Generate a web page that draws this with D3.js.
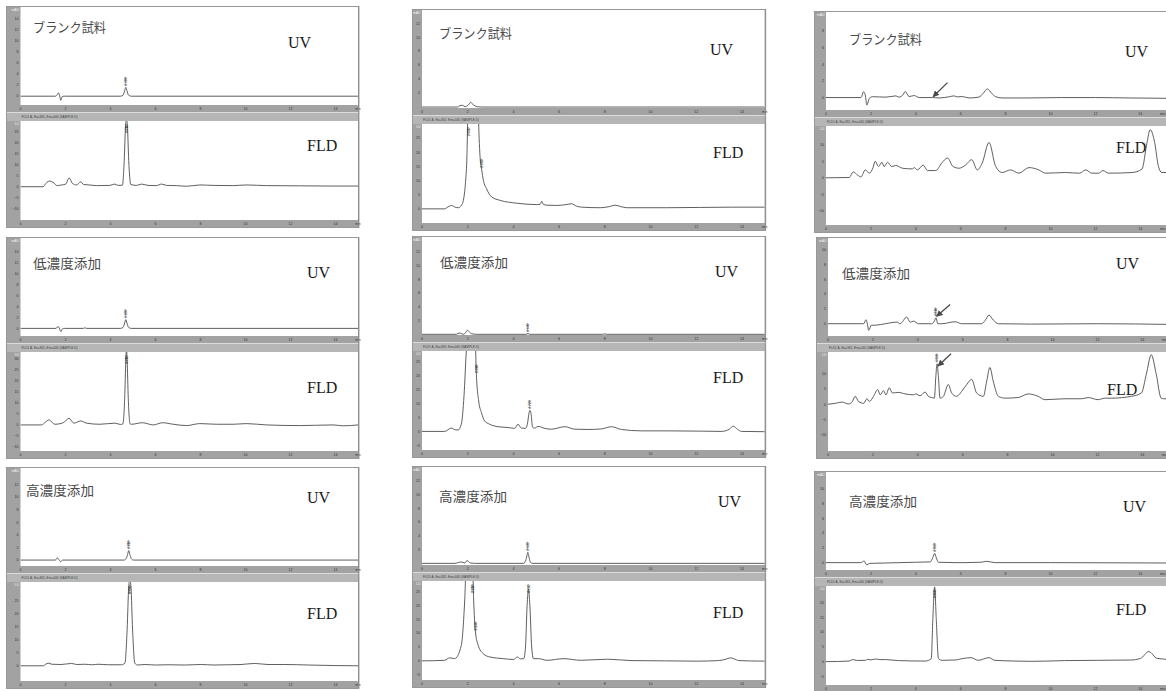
<!DOCTYPE html>
<html>
<head>
<meta charset="utf-8">
<script src="https://cdn.jsdelivr.net/npm/d3@7"></script>
<style>
  body { margin: 0; background: #fff; }
  svg { display: block; }
</style>
</head>
<body>
<svg id="chart" width="1166" height="691"></svg>
<script>
// ---- categories and labels ----
const sampleNames = ["ブランク試料", "低濃度添加", "高濃度添加"];
const detectorNames = ["UV", "FLD"];
const timeTicks = [0, 2, 4, 6, 8, 10, 12, 14];
const timeUnit = "min";
const uvUnit = "mAU";
const fldUnit = "LU";
const uvTickStep = 2;
const fldTickStep = 5;
const fldSignalName = "FLD1 A, Ex=365, Em=440 (SAMPLE.D)";

// ---- chromatogram traces: [retention time (min), signal] ----
// matrix 1
const uvBlank1 = [[0,0],[1.55,0],[1.64,0.3],[1.69,0.6],[1.74,0.1],[1.79,-0.75],[1.85,-0.1],[1.95,0],[4.45,0],[4.56,0.2],[4.63,1.0],[4.68,1.6],[4.73,1.0],[4.8,0.2],[4.92,0],[15,0]];
const fldBlank1 = [[0,0],[1.0,0],[1.13,1.5],[1.22,2.4],[1.3,2.6],[1.45,2.0],[1.63,0.5],[1.82,0.8],[2.01,1.2],[2.16,4.0],[2.31,1.5],[2.49,0.8],[2.68,2.2],[2.81,1.0],[2.96,0.9],[3.38,0.5],[3.97,0.6],[4.19,1.2],[4.34,0.6],[4.53,0.7],[4.61,12],[4.67,28],[4.71,31],[4.75,28],[4.81,12],[4.9,1.0],[5.16,0.6],[5.38,1.2],[5.67,0.6],[6.04,0.5],[6.27,1.2],[6.49,0.6],[6.93,0.5],[7.38,0.2],[7.97,0.8],[8.56,0.6],[9.45,0.5],[10.04,0.8],[10.93,0.5],[12.41,0.4],[13.9,0.3],[15,0.3]];
const uvLow1 = [[0,0],[1.58,0],[1.67,0.35],[1.74,-0.1],[1.79,-0.6],[1.86,-0.1],[1.95,0],[2.8,0],[2.83,0.1],[2.95,0],[4.45,0],[4.56,0.2],[4.63,1.0],[4.68,1.6],[4.73,1.0],[4.8,0.2],[4.92,0],[15,0]];
const fldLow1 = [[0,0],[0.93,0],[1.1,1.2],[1.27,2.3],[1.4,1.2],[1.53,0.3],[1.9,1.0],[2.16,3.0],[2.37,0.8],[2.68,1.8],[2.93,0.8],[3.53,0.3],[4.19,0.8],[4.45,0.2],[4.55,0.5],[4.63,12],[4.68,29],[4.71,34],[4.74,29],[4.79,12],[4.87,0.5],[4.93,0.3],[5.42,1.0],[5.9,0],[6.31,1.0],[6.79,0.3],[7.38,-0.3],[7.97,0.6],[8.71,0.3],[9.45,0.3],[10.04,0.6],[10.93,0],[12.41,-0.3],[13.9,0],[14.34,-0.4],[15,0]];
const uvHigh1 = [[0,0],[1.55,0],[1.64,0.35],[1.72,0],[1.79,-0.26],[1.87,0],[4.6,0],[4.7,0.25],[4.76,0.9],[4.81,1.5],[4.86,0.9],[4.92,0.25],[5.02,0],[15,0]];
const fldHigh1 = [[0,0],[1.0,0],[1.12,0.6],[1.23,1.0],[1.4,0.6],[1.8,0.5],[2.27,0.9],[2.5,0.5],[2.86,0.6],[3.2,0.4],[3.45,0.6],[3.9,0.4],[4.49,0.4],[4.64,1.0],[4.74,14],[4.81,30],[4.86,33],[4.91,30],[4.98,14],[5.08,1.0],[5.2,0.3],[5.53,0.5],[6.0,0.3],[6.56,0.4],[7.3,0.3],[8.04,0.5],[8.6,0.3],[9.23,0.4],[9.8,0.5],[10.41,0.9],[11.0,0.5],[11.75,0.5],[12.8,0.3],[13.97,0.1],[15,0]];

// matrix 2
const uvBlank2 = [[0,0],[1.55,0],[1.66,0.2],[1.78,0.25],[1.88,0.05],[2.03,0.3],[2.13,0.67],[2.25,0.3],[2.42,0.05],[2.61,0],[15,0]];
const fldBlank2 = [[0,0],[1.0,0],[1.08,0.4],[1.3,1.2],[1.45,0.6],[1.59,0.4],[1.72,1.2],[1.81,3],[1.9,9],[1.96,17],[2.03,40],[2.25,45],[2.44,40],[2.5,25],[2.54,18.5],[2.61,14],[2.69,10],[2.83,7],[3.05,4.2],[3.42,3],[4.15,2],[5.02,1.5],[5.17,1.6],[5.24,2.7],[5.31,1.6],[5.46,1.3],[5.9,1.2],[6.3,1.5],[6.55,1.8],[6.75,1.0],[6.99,0.6],[7.8,0.4],[8.2,0.8],[8.45,1.3],[8.7,0.8],[8.96,0.4],[10.7,0.4],[13.6,0.6],[15,0.6]];
const uvLow2 = [[0,0],[1.5,0],[1.65,0.2],[1.8,0],[1.9,0.2],[1.99,0.6],[2.08,0.3],[2.16,0.1],[2.38,0],[4.55,0],[4.64,0.12],[4.72,0],[7.9,0],[8.0,0.06],[8.1,0],[15,0]];
const fldLow2 = [[0,0],[0.99,0],[1.28,1.2],[1.45,0.6],[1.58,0.5],[1.72,2.6],[1.84,13],[1.94,29],[2.09,40],[2.31,38],[2.38,20.5],[2.48,11],[2.6,6.8],[2.74,3.8],[2.96,2.6],[3.33,1.7],[3.77,1.4],[4.06,1.1],[4.2,2.6],[4.35,1.2],[4.53,1.1],[4.61,2.5],[4.68,6.5],[4.72,7.6],[4.77,6.5],[4.84,1.5],[4.92,1.2],[5.08,1.8],[5.37,1.1],[5.66,0.8],[6.25,1.7],[6.69,0.8],[7.27,0.7],[7.85,0.9],[8.29,1.7],[8.73,0.7],[9.6,0.2],[10.77,0.2],[12.23,0.1],[13.1,0],[13.45,0.8],[13.62,1.9],[13.8,0.8],[13.99,0],[15,-0.1]];
const uvHigh2 = [[0,0],[1.45,0],[1.57,0.1],[1.72,0.2],[1.87,0.05],[1.97,0.4],[2.12,0.05],[2.3,0],[4.44,0],[4.54,0.4],[4.59,1.1],[4.63,1.6],[4.67,1.1],[4.72,0.4],[4.81,0],[15,0]];
const fldHigh2 = [[0,0],[0.99,0.2],[1.21,1.1],[1.43,0.8],[1.72,5.6],[1.87,22],[1.94,35],[2.21,35],[2.26,22],[2.34,10.4],[2.46,5.6],[2.68,2.6],[2.97,1.4],[3.56,0.8],[4.0,0.5],[4.18,1.4],[4.3,0.7],[4.45,0.8],[4.53,5],[4.6,20],[4.66,25.8],[4.72,20],[4.8,5],[4.88,0.8],[5.1,0.8],[5.47,0.2],[6.21,0.8],[6.94,0.2],[8.12,0.6],[9.15,0.1],[10.62,0],[12.09,-0.1],[12.97,0.1],[13.3,0.6],[13.49,1.1],[13.7,0.6],[13.85,0.1],[15,-0.1]];

// matrix 3
const uvBlank3 = [[0,0],[1.56,0],[1.67,0.7],[1.75,0.3],[1.82,-0.9],[1.93,-0.1],[2.07,0.1],[2.67,0.05],[3.11,0.2],[3.26,0.05],[3.42,0.3],[3.53,0.72],[3.7,0.12],[3.93,0.24],[4.15,0],[4.74,0],[5.04,-0.05],[5.5,0.1],[5.7,0.2],[5.85,0.08],[6.07,0.12],[6.37,-0.05],[6.81,0.05],[7.0,0.5],[7.19,1.04],[7.38,0.5],[7.56,0.1],[7.85,-0.05],[9.0,-0.05],[10.5,0],[12,0],[13.5,-0.05],[15.4,-0.1]];
const fldBlank3 = [[0,0],[1.04,0.1],[1.21,1.8],[1.41,0.8],[1.56,0.3],[1.75,2.4],[1.93,1.4],[2.09,3.0],[2.19,5],[2.34,3.4],[2.49,4.7],[2.59,3.4],[2.74,4.7],[2.93,3.4],[3.11,3.75],[3.41,2.9],[3.85,2.7],[3.93,3.1],[4.07,2.4],[4.33,3.85],[4.52,2.2],[4.89,2.2],[5.16,4.5],[5.41,6],[5.66,3.4],[5.93,2.9],[6.22,3.9],[6.49,5.5],[6.74,2.4],[6.96,4.5],[7.26,10.7],[7.56,3.4],[7.85,1.6],[8.22,2.4],[8.59,1.4],[9.04,3.1],[9.48,2.4],[9.78,1.4],[10.67,1.6],[11.3,1.4],[11.56,2.4],[11.85,1.4],[12.15,1.4],[12.33,2.2],[12.59,1.4],[13.63,1.6],[14.07,2.6],[14.3,10.7],[14.44,14.6],[14.64,10.7],[14.81,3.4],[14.96,1.6],[15.4,1.6]];
const uvLow3 = [[0,0],[1.59,0],[1.69,0.54],[1.76,-0.1],[1.81,-0.9],[1.93,-0.2],[2.1,-0.2],[2.55,0],[3.07,0.22],[3.21,0],[3.51,0.9],[3.66,0.2],[3.81,0.36],[4.03,0],[4.62,0],[4.74,0.36],[4.81,0.8],[4.89,0],[5.07,0],[5.66,0.27],[5.96,0],[6.84,0],[6.99,0.4],[7.17,1.17],[7.36,0.5],[7.59,0],[9.07,-0.05],[12,0],[15.4,-0.1]];
const fldLow3 = [[0,0],[0.33,0.3],[0.62,0.7],[0.92,0.1],[1.07,0.7],[1.21,2.6],[1.36,0.9],[1.59,0.3],[1.73,1.8],[1.84,0.9],[2.03,2.6],[2.21,4.8],[2.33,3.1],[2.47,4.5],[2.58,3.1],[2.73,5.4],[2.87,3.7],[3.14,3.9],[3.44,3.4],[3.81,3.1],[3.91,3.4],[4.1,2.8],[4.33,4.0],[4.47,2.6],[4.62,2.2],[4.74,2.0],[4.8,8.8],[4.86,13.3],[4.92,8.8],[4.99,2.0],[5.14,2.6],[5.36,6.5],[5.51,3.7],[5.73,2.6],[5.96,4.3],[6.18,6.5],[6.4,8.2],[6.62,3.7],[6.92,2.6],[7.07,7.6],[7.21,12.1],[7.36,7.6],[7.59,2.6],[7.88,2.0],[8.47,2.2],[8.92,3.4],[9.36,2.6],[9.66,1.5],[10.55,1.8],[11.29,1.8],[11.59,2.2],[12.03,1.5],[12.33,2.0],[12.62,2.0],[13.51,2.6],[13.96,3.7],[14.18,9.9],[14.4,16.3],[14.62,9.9],[14.84,2.0],[14.96,1.8],[15.4,1.8]];
const uvHigh3 = [[0,0],[1.55,0],[1.7,0.22],[1.81,-0.3],[1.95,-0.1],[2.65,-0.05],[3.98,0.05],[4.65,0.1],[4.76,0.7],[4.84,1.26],[4.91,0.7],[5.01,0.05],[5.75,0],[6.19,0],[6.9,0.05],[7.15,0.18],[7.52,0],[10,0],[15.4,-0.05]];
const fldHigh3 = [[0,0],[1.03,0.2],[1.18,0.7],[1.4,0.4],[1.77,0.45],[1.84,0.8],[2.0,0.6],[2.21,0.9],[2.4,0.7],[2.65,0.7],[3.24,0.35],[4.42,0.2],[4.69,1.0],[4.76,14.6],[4.84,25.3],[4.91,14.6],[5.01,1.0],[5.16,0.45],[5.75,0.55],[6.05,1.0],[6.46,1.35],[6.78,0.45],[7.26,1.35],[7.52,0.45],[8.41,0.2],[9.14,0.1],[10.62,0.35],[12.09,0.45],[13.57,0.55],[14.01,1.1],[14.38,3.4],[14.75,1.1],[15.4,0.7]];

// integrated peak retention times (min), per [matrix][sample]
const uvPeakTimes = [[[4.68],[4.68],[4.81]], [[],[4.64],[4.63]], [[],[4.81],[4.84]]];
const fldPeakTimes = [[[4.71],[4.71],[4.86]], [[2.03,2.61],[2.38,4.72],[2.21,2.34,4.66]], [[],[4.86],[4.84]]];

// arrows pointing at the target peak: [from [t, v], to [t, v]]
const uvArrows = [[[],[],[]], [[],[],[]], [[[[5.41,1.8],[4.77,0.1]]], [[[5.44,2.6],[4.84,1.0]]], []]];
const fldArrows = [[[],[],[]], [[],[],[]], [[], [[[5.48,16.6],[4.9,12.6]]], []]];

const uvTraces = [[uvBlank1, uvLow1, uvHigh1], [uvBlank2, uvLow2, uvHigh2], [uvBlank3, uvLow3, uvHigh3]];
const fldTraces = [[fldBlank1, fldLow1, fldHigh1], [fldBlank2, fldLow2, fldHigh2], [fldBlank3, fldLow3, fldHigh3]];

// ---- axis ranges per [matrix][sample] ----
const uvDomains = [
  [[-1.6, 16.2], [-1.4, 16.6], [-0.94, 14.6]],
  [[-0.14, 13.9], [-0.1, 14.2], [-0.24, 14]],
  [[-1.5, 10.3], [-1.66, 11.6], [-1, 12.3]]
];
const fldDomains = [
  [[-15.2, 30], [-11.8, 33], [-5.8, 32]],
  [[-5, 30], [-6.7, 29], [-6.9, 28.8]],
  [[-14.3, 15.7], [-15.4, 17.2], [-7.9, 25.6]]
];

// ---- layout ----
const W = 1166, H = 691;
const colLayout = [
  { strip: 7,   x0: 20.5, ppm: 22.5,  tEnd: 15 },
  { strip: 413, x0: 422,  ppm: 22.85, tEnd: 15 },
  { strip: 815, x0: 826,  ppm: 22.45, tEnd: 15.6 }
];
const rowTops = [[7, 238, 468], [10, 237, 467], [12, 238, 472]];
const colShift = [[0, 0, 0], [0, 0, 0], [0, 2, 0]];
const UV_H = 98, BAND_H = 7, BAR_H = 9, FLD_H = 99;
// label anchor positions [x, baseline] per [matrix][sample]
const labelPos = [
  [ {jp:[33,32],  uv:[288,48],   fld:[307,151]},  {jp:[33,268],  uv:[307,278],  fld:[307,393]},  {jp:[26,495],  uv:[307,503],  fld:[307,619]} ],
  [ {jp:[439,38], uv:[710,55],   fld:[713,158]},  {jp:[440,267], uv:[715,277],  fld:[713,383]},  {jp:[439,501], uv:[718,507],  fld:[713,618]} ],
  [ {jp:[849,44], uv:[1125,57],  fld:[1116,153]}, {jp:[842,278], uv:[1116,269], fld:[1107,395]}, {jp:[849,506], uv:[1123,512], fld:[1116,615]} ]
];
const jpWidths = [73, 68, 68];

const BAND = "#a2a2a2", BAR = "#b6b6b6", FRAME = "#8a8a8a", TRACE = "#4d4d4d";

const svg = d3.select("#chart");
svg.append("rect").attr("width", W).attr("height", H).attr("fill", "#fff");
const defs = svg.append("defs");

defs.append("marker").attr("id", "arrowHead")
  .attr("viewBox", "0 0 10 10").attr("refX", 9).attr("refY", 5)
  .attr("markerWidth", 5).attr("markerHeight", 5).attr("orient", "auto")
  .append("path").attr("d", "M0,0 L10,5 L0,10 Z").attr("fill", "#4a4a4a");

let clipId = 0;

function drawPlot(g, trace, domain, tickStep, unit, xScale, left, right, top, h, peaks, arrows) {
  const y = d3.scaleLinear().domain(domain).range([top + h, top]);
  // white plot area
  g.append("rect").attr("x", left).attr("y", top).attr("width", right - left).attr("height", h)
    .attr("fill", "#fff");
  // y ticks in the left strip
  const tickVals = d3.range(Math.ceil((domain[0] + 0.3 * tickStep) / tickStep) * tickStep,
                            domain[1] - 0.5 * tickStep, tickStep);
  g.selectAll(null).data(tickVals).join("text")
    .attr("x", left - 2).attr("y", d => y(d) + 1.3)
    .attr("text-anchor", "end").attr("font-family", "Liberation Sans, sans-serif")
    .attr("font-size", 3.6).attr("fill", "#333")
    .text(d => d3.format("d")(d));
  g.append("text").attr("x", left - 1.5).attr("y", top + 3.5)
    .attr("text-anchor", "end").attr("font-family", "Liberation Sans, sans-serif")
    .attr("font-size", 3.4).attr("fill", "#f4f4f4").text(unit);

  // clipped trace
  const id = "clip" + (clipId++);
  defs.append("clipPath").attr("id", id).append("rect")
    .attr("x", left).attr("y", top).attr("width", right - left).attr("height", h);
  const line = d3.line().x(d => xScale(d[0])).y(d => y(d[1])).curve(d3.curveMonotoneX);
  g.append("path").datum(trace).attr("d", line)
    .attr("fill", "none").attr("stroke", TRACE).attr("stroke-width", 0.9)
    .attr("clip-path", `url(#${id})`);

  // retention-time labels at integrated peaks
  peaks.forEach(t => {
    const pt = trace.find(p => p[0] === t);
    const px = xScale(pt[0]);
    const py = y(pt[1]);
    const clipped = py - 11 < top;
    const anchorY = clipped ? top + 12 : py - 1.5;
    g.append("text")
      .attr("transform", `translate(${px + 1.2},${anchorY}) rotate(-90)`)
      .attr("font-family", "Liberation Sans, sans-serif").attr("font-size", 3.4)
      .attr("fill", "#222").text(pt[0].toFixed(3));
    g.append("line").attr("x1", px - 0.4).attr("x2", px - 0.4)
      .attr("y1", anchorY).attr("y2", anchorY - 9)
      .attr("stroke", "#444").attr("stroke-width", 0.5);
  });

  // arrows
  arrows.forEach(a => {
    g.append("line")
      .attr("x1", xScale(a[0][0])).attr("y1", y(a[0][1]))
      .attr("x2", xScale(a[1][0])).attr("y2", y(a[1][1]))
      .attr("stroke", "#4a4a4a").attr("stroke-width", 1.3)
      .attr("marker-end", "url(#arrowHead)");
  });
  return y;
}

function drawTimeBand(g, xScale, left, right, top, tEnd) {
  g.append("rect").attr("x", left).attr("y", top).attr("width", right - left).attr("height", BAND_H)
    .attr("fill", BAND);
  g.selectAll(null).data(timeTicks).join("text")
    .attr("x", d => xScale(d)).attr("y", top + 4.8)
    .attr("text-anchor", "middle").attr("font-family", "Liberation Sans, sans-serif")
    .attr("font-size", 3.6).attr("fill", "#333").text(d => d);
  if (tEnd >= 15) {
    g.append("text").attr("x", xScale(15)).attr("y", top + 4.8)
      .attr("text-anchor", "middle").attr("font-family", "Liberation Sans, sans-serif")
      .attr("font-size", 3.4).attr("fill", "#333").text(timeUnit);
  }
}

for (let c = 0; c < 3; c++) {
  for (let r = 0; r < 3; r++) {
    const L = colLayout[c];
    const shift = colShift[c][r];
    const T = rowTops[c][r];
    const stripX = L.strip + shift;
    const left = L.x0 + shift;
    const right = left + L.tEnd * L.ppm;
    const x = d3.scaleLinear().domain([0, L.tEnd]).range([left, right]);
    const g = svg.append("g");

    const total = UV_H + BAND_H + BAR_H + FLD_H + BAND_H;
    // window frame and left axis strip
    g.append("rect").attr("x", stripX - 0.5).attr("y", T - 0.5)
      .attr("width", right - stripX + 1.5).attr("height", total + 1)
      .attr("fill", BAND).attr("stroke", FRAME).attr("stroke-width", 0.8);

    // UV chromatogram
    drawPlot(g, uvTraces[c][r], uvDomains[c][r], uvTickStep, uvUnit, x,
             left, right, T, UV_H, uvPeakTimes[c][r], uvArrows[c][r]);
    drawTimeBand(g, x, left, right, T + UV_H, L.tEnd);

    // signal title bar between the two detectors
    const barY = T + UV_H + BAND_H;
    g.append("rect").attr("x", stripX).attr("y", barY).attr("width", right - stripX + 1).attr("height", BAR_H)
      .attr("fill", BAR);
    g.append("line").attr("x1", stripX).attr("x2", right + 1).attr("y1", barY + 0.5).attr("y2", barY + 0.5)
      .attr("stroke", "#dcdcdc").attr("stroke-width", 1);
    g.append("text").attr("x", left + 1).attr("y", barY + 5.5)
      .attr("font-family", "Liberation Sans, sans-serif").attr("font-size", 3.2)
      .attr("fill", "#444").text(fldSignalName);

    // FLD chromatogram
    const fldTop = barY + BAR_H;
    drawPlot(g, fldTraces[c][r], fldDomains[c][r], fldTickStep, fldUnit, x,
             left, right, fldTop, FLD_H, fldPeakTimes[c][r], fldArrows[c][r]);
    drawTimeBand(g, x, left, right, fldTop + FLD_H, L.tEnd);

    // plot right border
    g.append("line").attr("x1", right + 0.5).attr("x2", right + 0.5).attr("y1", T).attr("y2", T + total)
      .attr("stroke", FRAME).attr("stroke-width", 0.8);

    // labels
    const P = labelPos[c][r];
    g.append("text").attr("x", P.jp[0]).attr("y", P.jp[1])
      .attr("font-family", "Noto Sans CJK JP, sans-serif").attr("font-size", 13)
      .attr("fill", "#4a4a4a").attr("textLength", jpWidths[r]).attr("lengthAdjust", "spacingAndGlyphs")
      .text(sampleNames[r]);
    g.append("text").attr("x", P.uv[0]).attr("y", P.uv[1])
      .attr("font-family", "Liberation Serif, serif").attr("font-size", 16)
      .attr("fill", "#1a1a1a").text(detectorNames[0]);
    g.append("text").attr("x", P.fld[0]).attr("y", P.fld[1])
      .attr("font-family", "Liberation Serif, serif").attr("font-size", 16)
      .attr("fill", "#1a1a1a").text(detectorNames[1]);
  }
}
</script>
</body>
</html>
